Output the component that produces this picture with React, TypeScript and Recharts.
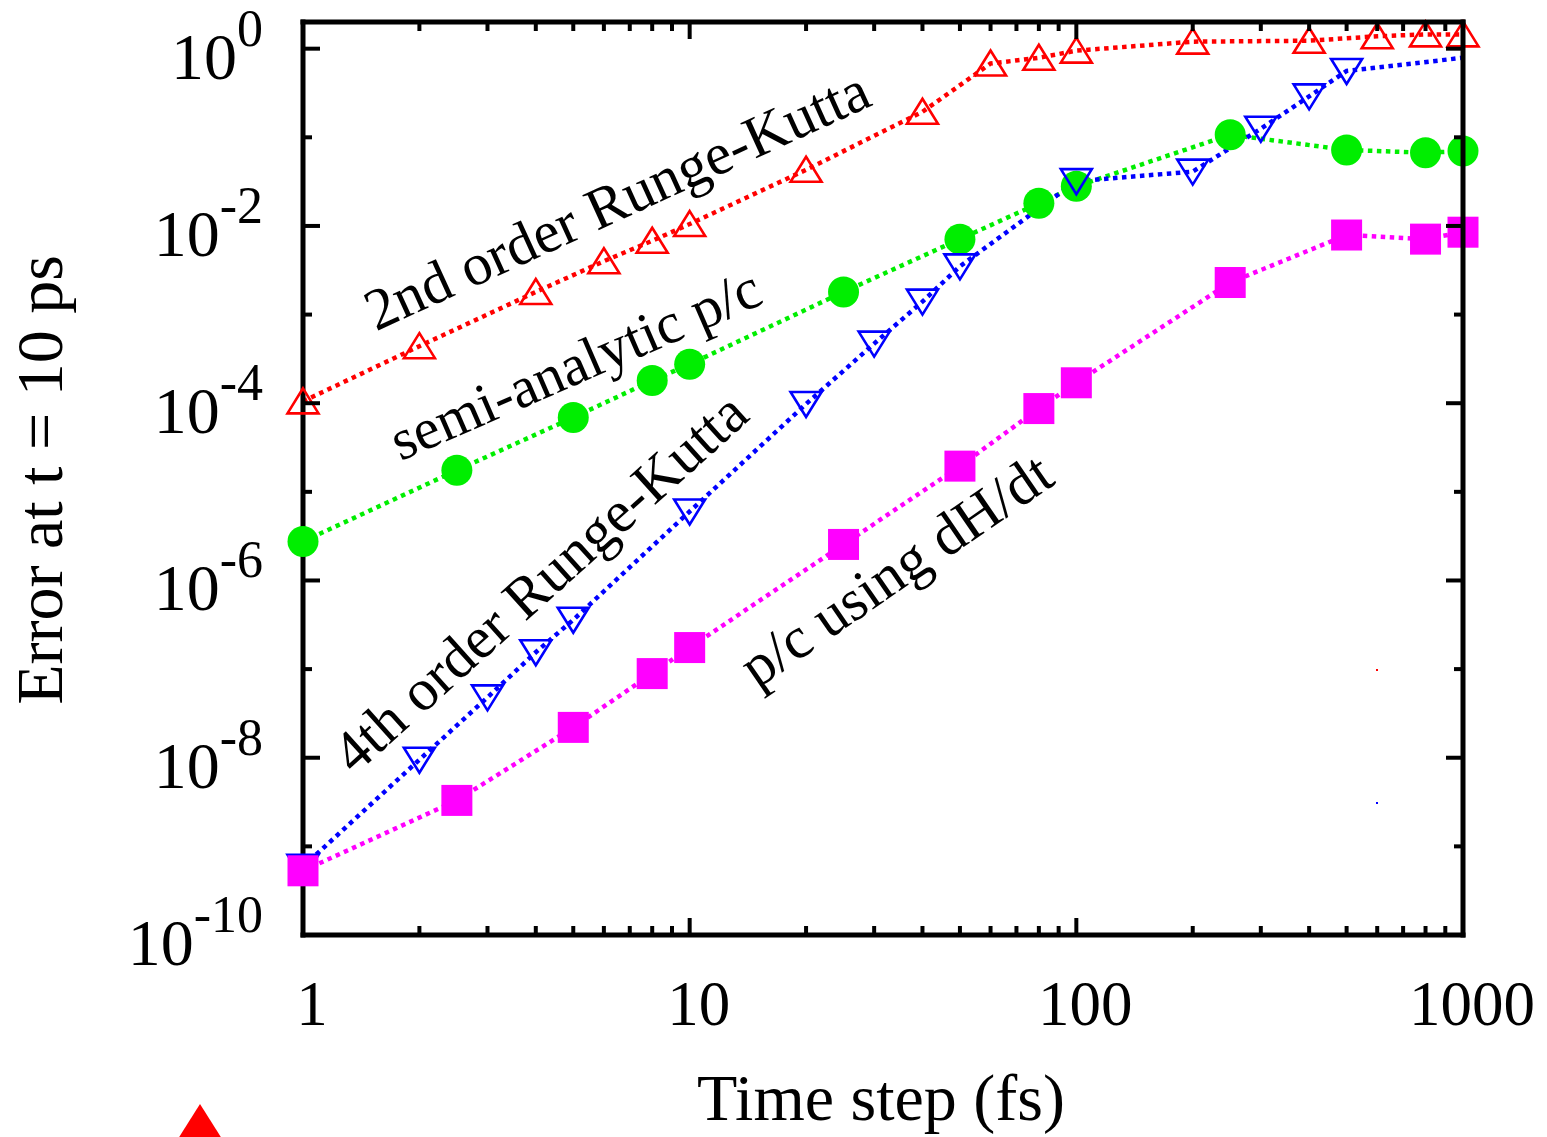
import { LineChart, Line, XAxis, YAxis, ReferenceLine } from "recharts"

const serif = "'Liberation Serif', 'Times New Roman', serif"

// time steps (fs) and error at t = 10 ps for each integrator
const rk2Steps = [1, 2, 4, 6, 8, 10, 20, 40, 60, 80, 100, 200, 400, 600, 800, 1000]
const rk2Err = [1.05e-4, 4.4e-4, 1.8e-3, 4.0e-3, 6.8e-3, 1.05e-2, 4.3e-2, 0.194, 0.68, 0.79, 0.95, 1.2, 1.23, 1.38, 1.45, 1.45]

const semiSteps = [1, 2.5, 5, 8, 10, 25, 50, 80, 100, 250, 500, 800, 1000]
const semiErr = [2.75e-6, 1.75e-5, 6.9e-5, 1.8e-4, 2.75e-4, 1.8e-3, 7.1e-3, 1.8e-2, 2.8e-2, 0.107, 0.072, 0.067, 0.07]

const rk4Steps = [1, 2, 3, 4, 5, 10, 20, 30, 40, 50, 100, 200, 300, 400, 500, 1000]
const rk4Err = [5.9e-10, 9.5e-9, 4.8e-8, 1.55e-7, 3.6e-7, 6.0e-6, 9.8e-5, 4.7e-4, 1.4e-3, 3.5e-3, 3.2e-2, 4.1e-2, 0.125, 0.29, 0.56, 0.79]

const dhdtSteps = [1, 2.5, 5, 8, 10, 25, 50, 80, 100, 250, 500, 800, 1000]
const dhdtErr = [5.3e-10, 3.3e-9, 2.2e-8, 8.9e-8, 1.75e-7, 2.55e-6, 1.95e-5, 8.7e-5, 1.7e-4, 2.3e-3, 7.9e-3, 7.1e-3, 8.5e-3]

const xTicks = [1, 2, 3, 4, 5, 6, 7, 8, 9, 10, 20, 30, 40, 50, 60, 70, 80, 90, 100, 200, 300, 400, 500, 600, 700, 800, 900, 1000]
const xLabels = [1, 10, 100, 1000]
const yExponents = [-10, -9, -8, -7, -6, -5, -4, -3, -2, -1, 0]
const yTicks = yExponents.map((e) => Math.pow(10, e))
const xDomain = [1, 1000]
const yDomain = [1e-10, 2]

const toPoints = (steps: number[], errs: number[]) => steps.map((t, i) => ({ t, err: errs[i] }))

const rk2Data = toPoints(rk2Steps, rk2Err)
const semiData = toPoints(semiSteps, semiErr)
const rk4Data = toPoints(rk4Steps, rk4Err)
const dhdtData = toPoints(dhdtSteps, dhdtErr)

const W = 1547
const H = 1137
const margin = { top: 22, right: 84, bottom: 0, left: 0 }
const Y_AXIS_W = 303
const X_AXIS_H = 202
const PLOT_W = W - margin.left - margin.right - Y_AXIS_W
const PLOT_H = H - margin.top - margin.bottom - X_AXIS_H

const MAJOR = 17
const MINOR = 9

const isMajorX = (v: number) => xLabels.some((l) => Math.abs(l - v) < 1e-6)
const expOf = (v: number) => Math.round(Math.log10(v))

// bottom tick: inward mark at the bottom edge, mirrored mark at the top edge
function XTick({ x, y, payload }: any) {
  const major = isMajorX(payload.value)
  const len = major ? MAJOR : MINOR
  const top = y - PLOT_H
  return (
    <g>
      <line x1={x} y1={y} x2={x} y2={y - len} stroke="#000" strokeWidth={4} />
      <line x1={x} y1={top} x2={x} y2={top + len} stroke="#000" strokeWidth={4} />
      {major && (
        <text x={x + 9} y={y + 90} textAnchor="middle" fontSize={63} fontFamily={serif} fill="#000">
          {payload.value}
        </text>
      )}
    </g>
  )
}

function YTick({ x, y, payload }: any) {
  const e = expOf(payload.value)
  const major = e % 2 === 0
  const len = major ? MAJOR : MINOR
  const right = x + PLOT_W
  return (
    <g>
      <line x1={x} y1={y} x2={x + len} y2={y} stroke="#000" strokeWidth={4} />
      <line x1={right} y1={y} x2={right - len} y2={y} stroke="#000" strokeWidth={4} />
      {major && (
        <text x={x - 40} y={y + 30} textAnchor="end" fontSize={66} fontFamily={serif} fill="#000">
          <tspan>10</tspan>
          <tspan dy={-33} fontSize={52}>{e}</tspan>
        </text>
      )}
    </g>
  )
}

const triUp = (color: string) => (p: any) => {
  const { cx, cy, index } = p
  return (
    <polygon
      key={`u${index}`}
      points={`${cx},${cy - 13} ${cx + 15.5},${cy + 12} ${cx - 15.5},${cy + 12}`}
      fill="none"
      stroke={color}
      strokeWidth={2.6}
    />
  )
}

const triDown = (color: string, hideLast: boolean) => (p: any) => {
  const { cx, cy, index } = p
  if (hideLast && index === rk4Steps.length - 1) return <g key={`d${index}`} />
  return (
    <polygon
      key={`d${index}`}
      points={`${cx - 15.5},${cy - 12} ${cx + 15.5},${cy - 12} ${cx},${cy + 13}`}
      fill="none"
      stroke={color}
      strokeWidth={2.6}
    />
  )
}

const disc = (color: string) => (p: any) => (
  <circle key={`c${p.index}`} cx={p.cx} cy={p.cy} r={15.5} fill={color} />
)

const box = (color: string) => (p: any) => (
  <rect key={`s${p.index}`} x={p.cx - 15.5} y={p.cy - 15.5} width={31} height={31} fill={color} />
)

const frame = { stroke: "#000", strokeWidth: 5, strokeLinecap: "square" as const }
const dash = "4.5 4.5"

export default function App() {
  return (
    <div style={{ position: "absolute", left: 0, top: 0, width: W, height: H, background: "#fff" }}>
      <LineChart width={W} height={H} margin={margin}>
        <XAxis
          dataKey="t"
          type="number"
          scale="log"
          domain={xDomain}
          ticks={xTicks}
          interval={0}
          tickSize={0}
          tickMargin={0}
          tickLine={false}
          tick={(p: any) => <XTick {...p} />}
          axisLine={frame}
          height={X_AXIS_H}
        />
        <YAxis
          type="number"
          scale="log"
          domain={yDomain}
          ticks={yTicks}
          interval={0}
          tickSize={0}
          tickMargin={0}
          tickLine={false}
          tick={(p: any) => <YTick {...p} />}
          axisLine={frame}
          width={Y_AXIS_W}
        />
        <Line data={rk2Data} dataKey="err" type="linear" stroke="#ff0000" strokeWidth={4.5} strokeDasharray={dash} dot={triUp("#ff0000")} activeDot={false} isAnimationActive={false} />
        <Line data={semiData} dataKey="err" type="linear" stroke="#00ee00" strokeWidth={4.5} strokeDasharray={dash} dot={disc("#00ee00")} activeDot={false} isAnimationActive={false} />
        <Line data={rk4Data} dataKey="err" type="linear" stroke="#0000ff" strokeWidth={4.5} strokeDasharray={dash} dot={triDown("#0000ff", true)} activeDot={false} isAnimationActive={false} />
        <Line data={dhdtData} dataKey="err" type="linear" stroke="#ff00ff" strokeWidth={4.5} strokeDasharray={dash} dot={box("#ff00ff")} activeDot={false} isAnimationActive={false} />
        <ReferenceLine y={yDomain[1]} stroke="#000" strokeWidth={5} strokeLinecap="square" zIndex={1500} />
        <ReferenceLine x={xDomain[1]} stroke="#000" strokeWidth={5} strokeLinecap="square" zIndex={1500} />
      </LineChart>

      <svg width={W} height={H} style={{ position: "absolute", left: 0, top: 0, pointerEvents: "none" }}>
        <g fontFamily={serif} fill="#000">
          <text x={881} y={1120} fontSize={66} textAnchor="middle">Time step (fs)</text>
          <text x={62} y={480} fontSize={66} textAnchor="middle" transform="rotate(-90 62 480)">Error at t = 10 ps</text>
          <text x={625} y={218} fontSize={59} textAnchor="middle" transform="rotate(-24.5 625 218)">2nd order Runge-Kutta</text>
          <text x={583} y={382} fontSize={58} textAnchor="middle" transform="rotate(-23.5 583 382)">semi-analytic p/c</text>
          <text x={553} y={597} fontSize={59} textAnchor="middle" transform="rotate(-42 553 597)">4th order Runge-Kutta</text>
          <text x={907} y={586} fontSize={59} textAnchor="middle" transform="rotate(-34.5 907 586)">p/c using dH/dt</text>
        </g>
        <polygon points="200,1104 176,1142 224,1142" fill="#ff0000" />
        <rect x={1376} y={669} width={2} height={2} fill="#ff0000" />
        <rect x={1376} y={802} width={2} height={2} fill="#0000ff" />
      </svg>
    </div>
  )
}
